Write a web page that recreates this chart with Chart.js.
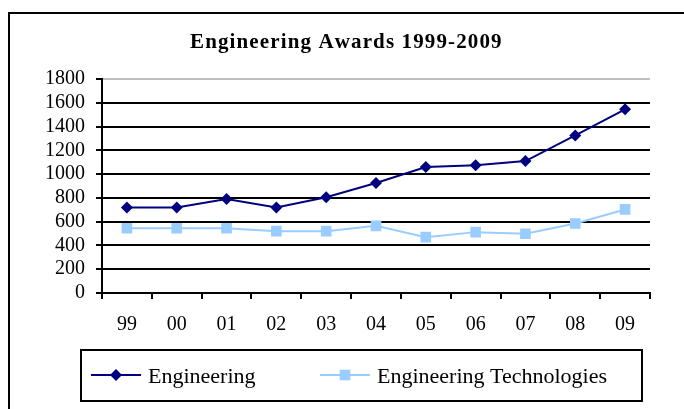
<!DOCTYPE html>
<html>
<head>
<meta charset="utf-8">
<script src="https://cdn.jsdelivr.net/npm/chart.js@4.4.1/dist/chart.umd.min.js"></script>
<style>
  html, body { margin: 0; padding: 0; background: #ffffff; }
  #wrap { width: 684px; height: 409px; position: relative; }
</style>
</head>
<body>
<div id="wrap"><canvas id="c" width="684" height="409"></canvas></div>
<script>
const chartTitle = 'Engineering Awards 1999-2009';
const categories = ['99', '00', '01', '02', '03', '04', '05', '06', '07', '08', '09'];
const seriesNames = ['Engineering', 'Engineering Technologies'];
const engineering = [720, 720, 790, 720, 805, 925, 1060, 1075, 1110, 1325, 1545];
const engineeringTech = [545, 545, 545, 520, 520, 565, 470, 512, 498, 585, 703];
const yTicks = [0, 200, 400, 600, 800, 1000, 1200, 1400, 1600, 1800];

const NAVY = '#000080';
const LIGHT = '#99CCFF';
const SERIF = '"Liberation Serif", "Times New Roman", serif';

const decorPlugin = {
  id: 'decor',
  beforeDraw(chart) {
    const ctx = chart.ctx;
    ctx.save();
    ctx.fillStyle = '#ffffff';
    ctx.fillRect(0, 0, chart.width, chart.height);
    ctx.restore();
  },
  afterDraw(chart) {
    const ctx = chart.ctx;
    ctx.save();
    // outer frame (runs off right and bottom)
    ctx.strokeStyle = '#000000';
    ctx.lineWidth = 2;
    ctx.strokeRect(9, 13, 720, 440);

    // title with letter spacing
    ctx.font = 'bold 21px ' + SERIF;
    ctx.fillStyle = '#000000';
    ctx.textBaseline = 'alphabetic';
    ctx.textAlign = 'left';
    const target = 310;
    const w0 = ctx.measureText(chartTitle).width;
    const sp = Math.max(0, (target - w0) / (chartTitle.length - 1));
    let x = 345 - target / 2;
    for (const ch of chartTitle) {
      ctx.fillText(ch, x, 48);
      x += ctx.measureText(ch).width + sp;
    }

    // legend box
    ctx.lineWidth = 2;
    ctx.strokeRect(81, 350, 561, 51);
    const items = chart.data.datasets.map((d, i) => ({
      label: d.label, color: d.borderColor, style: d.pointStyle, radius: d.pointRadius,
      x0: i === 0 ? 91 : 320
    }));
    ctx.font = '22px ' + SERIF;
    for (const it of items) {
      const ly = 375;
      ctx.strokeStyle = it.color;
      ctx.lineWidth = 2;
      ctx.beginPath();
      ctx.moveTo(it.x0, ly);
      ctx.lineTo(it.x0 + 50, ly);
      ctx.stroke();
      ctx.fillStyle = it.color;
      Chart.helpers.drawPoint(ctx, { pointStyle: it.style, radius: it.radius, rotation: 0, borderWidth: 0 }, it.x0 + 25, ly);
      ctx.fillStyle = '#000000';
      ctx.textBaseline = 'alphabetic';
      ctx.fillText(it.label, it.x0 + 57, 383);
    }
    ctx.restore();
  }
};

new Chart(document.getElementById('c'), {
  type: 'line',
  data: {
    labels: categories,
    datasets: [
      {
        label: seriesNames[0],
        data: engineering,
        borderColor: NAVY,
        backgroundColor: NAVY,
        borderWidth: 2,
        pointStyle: 'rectRot',
        pointRadius: 6,
        pointBorderWidth: 0,
        pointBackgroundColor: NAVY,
        tension: 0
      },
      {
        label: seriesNames[1],
        data: engineeringTech,
        borderColor: LIGHT,
        backgroundColor: LIGHT,
        borderWidth: 2,
        pointStyle: 'rect',
        pointRadius: 7.5,
        pointBorderWidth: 0,
        pointBackgroundColor: LIGHT,
        tension: 0
      }
    ]
  },
  options: {
    responsive: false,
    animation: false,
    devicePixelRatio: 1,
    layout: { padding: { left: 10, right: 34, top: 79, bottom: 0 } },
    plugins: {
      legend: { display: false },
      title: { display: false },
      tooltip: { enabled: false }
    },
    scales: {
      x: {
        offset: true,
        grid: {
          offset: true,
          drawOnChartArea: false,
          drawTicks: true,
          tickLength: 6,
          tickColor: '#000000',
          lineWidth: 2,
          tickWidth: 2
        },
        border: { display: true, color: '#000000', width: 2 },
        ticks: {
          color: '#000000',
          font: { family: SERIF, size: 20 },
          padding: 14,
          maxRotation: 0,
          autoSkip: false
        },
        afterFit(scale) { scale.height = 116; }
      },
      y: {
        min: yTicks[0],
        max: yTicks[yTicks.length - 1],
        afterBuildTicks(scale) { scale.ticks = yTicks.map(v => ({ value: v })); },
        grid: {
          color: (c) => (c.tick && c.tick.value === 1800 ? '#c0c0c0' : '#000000'),
          tickColor: '#000000',
          lineWidth: 2,
          tickWidth: 2,
          tickLength: 6
        },
        border: { display: true, color: '#000000', width: 2 },
        ticks: {
          color: '#000000',
          font: { family: SERIF, size: 20 },
          padding: 11,
          autoSkip: false,
          callback: (v) => String(v)
        },
        afterFit(scale) { scale.width = 92; }
      }
    }
  },
  plugins: [decorPlugin]
});
</script>
</body>
</html>
